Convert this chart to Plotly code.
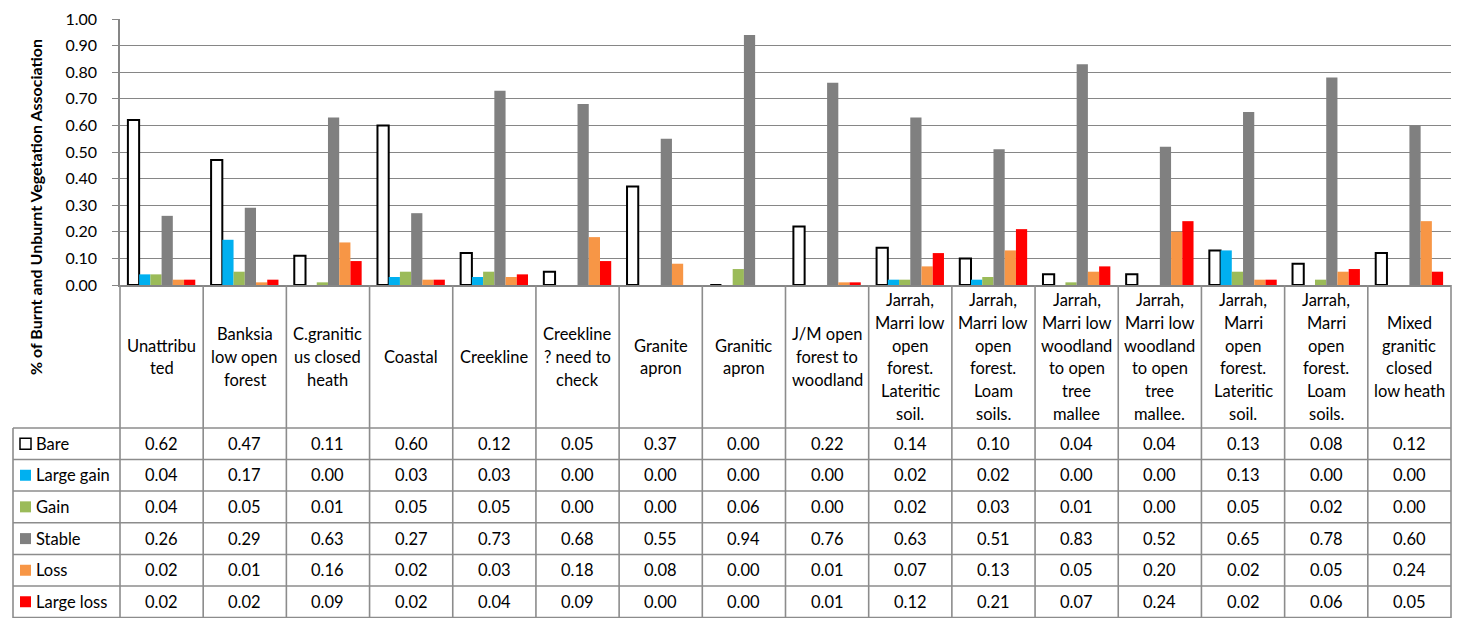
import plotly.graph_objects as go

categories = [
    "Unattribu<br>ted",
    "Banksia<br>low open<br>forest",
    "C.granitic<br>us closed<br>heath",
    "Coastal",
    "Creekline",
    "Creekline<br>? need to<br>check",
    "Granite<br>apron",
    "Granitic<br>apron",
    "J/M open<br>forest to<br>woodland",
    "Jarrah,<br>Marri low<br>open<br>forest.<br>Lateritic<br>soil.",
    "Jarrah,<br>Marri low<br>open<br>forest.<br>Loam<br>soils.",
    "Jarrah,<br>Marri low<br>woodland<br>to open<br>tree<br>mallee",
    "Jarrah,<br>Marri low<br>woodland<br>to open<br>tree<br>mallee.",
    "Jarrah,<br>Marri<br>open<br>forest.<br>Lateritic<br>soil.",
    "Jarrah,<br>Marri<br>open<br>forest.<br>Loam<br>soils.",
    "Mixed<br>granitic<br>closed<br>low heath",
]

bare = [0.62, 0.47, 0.11, 0.60, 0.12, 0.05, 0.37, 0.00, 0.22, 0.14, 0.10, 0.04, 0.04, 0.13, 0.08, 0.12]
large_gain = [0.04, 0.17, 0.00, 0.03, 0.03, 0.00, 0.00, 0.00, 0.00, 0.02, 0.02, 0.00, 0.00, 0.13, 0.00, 0.00]
gain = [0.04, 0.05, 0.01, 0.05, 0.05, 0.00, 0.00, 0.06, 0.00, 0.02, 0.03, 0.01, 0.00, 0.05, 0.02, 0.00]
stable = [0.26, 0.29, 0.63, 0.27, 0.73, 0.68, 0.55, 0.94, 0.76, 0.63, 0.51, 0.83, 0.52, 0.65, 0.78, 0.60]
loss = [0.02, 0.01, 0.16, 0.02, 0.03, 0.18, 0.08, 0.00, 0.01, 0.07, 0.13, 0.05, 0.20, 0.02, 0.05, 0.24]
large_loss = [0.02, 0.02, 0.09, 0.02, 0.04, 0.09, 0.00, 0.00, 0.01, 0.12, 0.21, 0.07, 0.24, 0.02, 0.06, 0.05]

series_names = ["Bare", "Large gain", "Gain", "Stable", "Loss", "Large loss"]
series_values = [bare, large_gain, gain, stable, loss, large_loss]
series_colors = ["#FFFFFF", "#00B0F0", "#9BBB59", "#808080", "#F79646", "#FF0000"]

y_title = "% of Burnt and Unburnt Vegetation Association"

# page has an 8px body margin; work in page pixels and convert
OFF = 8
W, H = 1461 - OFF, 618 - OFF
L, R, T, B = 120, 1451, 19, 285   # page-pixel plot area
FONT = "Lato"
TXT = 16.5
GRID = "#868686"
TABLE = "#8C8C8C"


def xp(px):
    return (px - L) / (R - L)


def yp(py):
    return (B - py) / (B - T)


fig = go.Figure()
for name, vals, col in zip(series_names, series_values, series_colors):
    fig.add_trace(go.Bar(
        x=categories, y=vals, name=name,
        marker=dict(color=col,
                    line=dict(color="#000000" if name == "Bare" else col,
                              width=2 if name == "Bare" else 0)),
        showlegend=False,
    ))

n = len(categories)
shapes = []
annotations = []

# table grid: vertical lines at category boundaries
for i in range(n + 1):
    x = i / n
    shapes.append(dict(type="line", xref="paper", yref="paper",
                       x0=x, x1=x, y0=yp(B), y1=yp(620),
                       line=dict(color=TABLE, width=1.6)))
# horizontal lines of the table
row_edges = [428, 459.5, 491, 522.7, 554.5, 586, 617.5]
for yy in row_edges:
    shapes.append(dict(type="line", xref="paper", yref="paper",
                       x0=xp(13), x1=1, y0=yp(yy), y1=yp(yy),
                       line=dict(color=TABLE, width=1.6)))
shapes.append(dict(type="line", xref="paper", yref="paper",
                   x0=xp(13), x1=xp(13), y0=yp(428), y1=yp(620),
                   line=dict(color=TABLE, width=1.6)))

# category header labels (one annotation per line)
hdr_center, hdr_step = 357, 22.7
for i, lab in enumerate(categories):
    lines = lab.split("<br>")
    k = len(lines)
    for j, ln in enumerate(lines):
        ypix = hdr_center + (j - (k - 1) / 2) * hdr_step
        annotations.append(dict(xref="paper", yref="paper", x=(i + 0.5) / n, y=yp(ypix),
                                text=ln, showarrow=False, xanchor="center", yanchor="middle",
                                font=dict(family=FONT, size=TXT, color="#000000")))

# rows: legend keys + values
for r, (name, vals, col) in enumerate(zip(series_names, series_values, series_colors)):
    yc = (row_edges[r] + row_edges[r + 1]) / 2
    shapes.append(dict(type="rect", xref="paper", yref="paper",
                       x0=xp(20), x1=xp(31), y0=yp(yc - 5.5), y1=yp(yc + 5.5),
                       fillcolor=col,
                       line=dict(color="#000000" if name == "Bare" else col,
                                 width=1.5 if name == "Bare" else 0)))
    annotations.append(dict(xref="paper", yref="paper", x=xp(34), y=yp(yc),
                            text=name, showarrow=False, xanchor="left", yanchor="middle",
                            font=dict(family=FONT, size=TXT, color="#000000")))
    for i, v in enumerate(vals):
        annotations.append(dict(xref="paper", yref="paper", x=(i + 0.5) / n, y=yp(yc),
                                text=f"{v:.2f}", showarrow=False, xanchor="center",
                                yanchor="middle",
                                font=dict(family=FONT, size=TXT, color="#000000")))

# y-axis title
annotations.append(dict(xref="paper", yref="paper", x=xp(35), y=yp(207),
                        text=y_title, textangle=-90, showarrow=False,
                        xanchor="center", yanchor="middle",
                        font=dict(family=FONT, size=16, color="#000000", weight="bold")))

fig.update_layout(
    width=W, height=H,
    margin=dict(l=L - OFF, r=1461 - R, t=T - OFF, b=618 - B, autoexpand=False),
    paper_bgcolor="#FFFFFF", plot_bgcolor="#FFFFFF",
    barmode="group", bargap=0.19, bargroupgap=0,
    font=dict(family=FONT, size=16, color="#000000"),
    shapes=shapes, annotations=annotations,
    xaxis=dict(type="category", range=[-0.5, n - 0.5], showticklabels=False,
               showgrid=False, showline=True, linecolor=GRID, linewidth=1.6,
               ticks="", zeroline=False, fixedrange=True),
    yaxis=dict(range=[0, 1.0], dtick=0.1, tick0=0, tickformat=".2f",
               showgrid=True, gridcolor=GRID, gridwidth=1.4,
               showline=True, linecolor=GRID, linewidth=1.6,
               ticks="outside", ticklen=6, tickcolor=GRID, tickwidth=1.4,
               ticklabelstandoff=12,
               tickfont=dict(family=FONT, size=16, color="#000000"),
               zeroline=False, fixedrange=True),
)

fig.write_html("out.html")
